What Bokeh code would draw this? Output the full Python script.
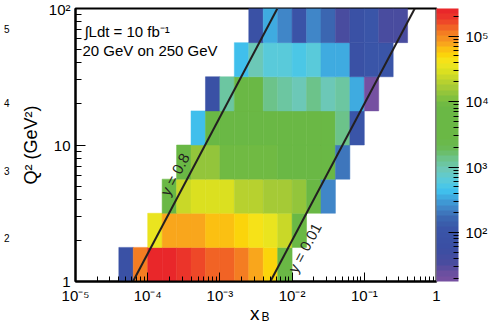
import numpy as np
from bokeh.plotting import figure
from bokeh.layouts import column
from bokeh.models import (LogColorMapper, ColorBar, LogTicker, CustomJSTickFormatter,
                          Label, ColumnDataSource, LogAxis, FixedTicker)
from bokeh.embed import file_html
from bokeh.resources import INLINE

# ---------------- data ----------------
# bin edges (log10)
x_log_edges = [-5.0, -4.8, -4.6, -4.4, -4.2, -4.0, -3.8, -3.6, -3.4, -3.2, -3.0,
               -2.8, -2.6, -2.4, -2.2, -2.0, -1.8, -1.6, -1.4, -1.2, -1.0,
               -0.8, -0.6, -0.4, -0.2, 0.0]
q2_log_edges = [0.0, 0.25, 0.5, 0.75, 1.0, 1.25, 1.5, 1.75, 2.0]

# event counts per Q2 row (bottom to top), per xB bin; 0 = empty
row_q2_1 = [0, 0, 0, 80, 110000, 220000, 220000, 200000, 170000, 140000, 130000, 110000,
            80000, 50000, 6000, 0, 0, 0, 0, 0, 0, 0, 0, 0, 0]
row_q2_2 = [0, 0, 0, 0, 0, 35000, 80000, 80000, 80000, 65000, 65000, 50000,
            40000, 35000, 24000, 6000, 0, 0, 0, 0, 0, 0, 0, 0, 0]
row_q2_3 = [0, 0, 0, 0, 0, 0, 6000, 24000, 30000, 30000, 30000, 21000,
            21000, 16500, 15000, 12500, 7000, 220, 0, 0, 0, 0, 0, 0, 0]
row_q2_4 = [0, 0, 0, 0, 0, 0, 0, 6000, 13000, 12500, 10000, 10000,
            9000, 8500, 7000, 7000, 7000, 7000, 180, 0, 0, 0, 0, 0, 0]
row_q2_5 = [0, 0, 0, 0, 0, 0, 0, 0, 450, 5500, 6500, 6500,
            6500, 6500, 5500, 5500, 5500, 5500, 1300, 110, 0, 0, 0, 0, 0]
row_q2_6 = [0, 0, 0, 0, 0, 0, 0, 0, 0, 80, 1100, 3000,
            4500, 1300, 1200, 900, 1300, 900, 1100, 320, 20, 0, 0, 0, 0]
row_q2_7 = [0, 0, 0, 0, 0, 0, 0, 0, 0, 0, 0, 450,
            900, 650, 650, 550, 650, 320, 320, 80, 110, 110, 0, 0, 0]
row_q2_8 = [0, 0, 0, 0, 0, 0, 0, 0, 0, 0, 0, 0,
            80, 320, 220, 100, 220, 155, 35, 80, 110, 35, 35, 0, 0]
count_rows = [row_q2_1, row_q2_2, row_q2_3, row_q2_4, row_q2_5, row_q2_6, row_q2_7, row_q2_8]

# kinematic lines: Q2 = y * s * xB
beam_e, beam_p = 20.0, 250.0
y_values = [0.8, 0.01]
y_labels = ["y = 0.8", "y = 0.01"]
q2_line = [1.0, 100.0]

z_low, z_high = 17.8, 2.66e5

# cut-off exponents of the neighbouring panel's colour scale (left edge)
edge_q2_pos = [70.8, 20.4, 6.46, 2.10]
edge_texts = ["5", "4", "3", "2"]

# ---------------- palette (ROOT-like rainbow) ----------------
anch_log = [1.25, 1.38, 1.53, 1.75, 2.04, 2.19, 2.35, 2.50, 2.65, 2.81, 2.96, 3.11, 3.27,
            3.42, 3.93, 4.03, 4.19, 4.34, 4.47, 4.60, 4.70, 4.80, 4.90, 5.06, 5.16, 5.26, 5.425]
anch_hex = ["#7a50a2", "#6a4fa0", "#4a4c9f", "#3a4ea3", "#3a55a8", "#3a62ae", "#4080c4",
            "#3fa0da", "#40c4ef", "#5ccbd8", "#6cc8b8", "#6cc490", "#6abb5a", "#6ab845",
            "#6ab845", "#7cbf40", "#a0c838", "#c0d42c", "#dce020", "#f4e61e", "#fbd80a",
            "#fbc012", "#f8a01e", "#f47a22", "#f05a26", "#ec3a2a", "#e8202a"]


def hex2rgb(h):
    return [int(h[i:i + 2], 16) for i in (1, 3, 5)]


rgb = np.array([hex2rgb(h) for h in anch_hex], dtype=float)
n_col = 50
lo, hi = np.log10(z_low), np.log10(z_high)
centers = lo + (np.arange(n_col) + 0.5) * (hi - lo) / n_col
palette = []
for c in centers:
    r, g, b = (int(round(np.interp(c, anch_log, rgb[:, k]))) for k in range(3))
    palette.append("#%02x%02x%02x" % (r, g, b))

mapper = LogColorMapper(palette=palette, low=z_low, high=z_high)

# ---------------- main figure ----------------
FONT = "Liberation Sans"
H_MAIN, H_TITLE = 306, 18
BL, BR = 72, 55
p = figure(width=491, height=H_MAIN, x_axis_type="log", y_axis_type="log",
           x_range=(1e-5, 1), y_range=(1, 100), output_backend="svg",
           toolbar_location=None, min_border_left=BL, min_border_right=BR,
           min_border_top=8, min_border_bottom=H_MAIN - 282)
p.background_fill_color = "white"
p.border_fill_color = "white"
p.grid.visible = False
p.outline_line_color = "black"
p.outline_line_width = 2

cells = dict(left=[], right=[], bottom=[], top=[], count=[])
for r, row in enumerate(count_rows):
    for j, c in enumerate(row):
        if c > 0:
            cells["left"].append(10 ** x_log_edges[j])
            cells["right"].append(10 ** x_log_edges[j + 1])
            cells["bottom"].append(10 ** q2_log_edges[r])
            cells["top"].append(10 ** q2_log_edges[r + 1])
            cells["count"].append(c)
src = ColumnDataSource(cells)
p.quad(left="left", right="right", bottom="bottom", top="top", source=src,
       fill_color={"field": "count", "transform": mapper},
       line_color={"field": "count", "transform": mapper}, line_width=0.5)

s = 4 * beam_e * beam_p
for yv in y_values:
    p.line([q / (yv * s) for q in q2_line], q2_line, line_color="#231f20", line_width=2)

p.add_layout(Label(x=2.37e-4, y=6.1, text=y_labels[0], angle=62, angle_units="deg",
                   text_align="center", text_baseline="middle", text_font=FONT,
                   text_font_size="15px", text_color="#231f20"))
p.add_layout(Label(x=0.0149, y=1.77, text=y_labels[1], angle=62, angle_units="deg",
                   text_align="center", text_baseline="middle", text_font=FONT,
                   text_font_size="15px", text_color="#231f20"))

p.add_layout(Label(x=1.33e-5, y=67.9, text="∫Ldt = 10 fb⁻¹", text_align="left",
                   text_baseline="alphabetic", text_font=FONT, text_font_size="15px",
                   text_color="black"))
p.add_layout(Label(x=1.25e-5, y=49.4, text="20 GeV on 250 GeV", text_align="left",
                   text_baseline="alphabetic", text_font=FONT, text_font_size="15px",
                   text_color="black"))

fmt_code = """
const e = Math.round(Math.log10(tick));
if (e == 0) return "1";
if (e == 1) return "10";
const sup = {"-":"\u207b","0":"\u2070","1":"\u00b9","2":"\u00b2","3":"\u00b3","4":"\u2074",
             "5":"\u2075","6":"\u2076","7":"\u2077","8":"\u2078","9":"\u2079"};
return "10" + String(e).split("").map(c => sup[c]).join("");
"""

for ax in (p.xaxis[0], p.yaxis[0]):
    ax.ticker = LogTicker(num_minor_ticks=10)
    ax.formatter = CustomJSTickFormatter(code=fmt_code)
    ax.axis_line_color = "black"
    ax.axis_line_width = 2
    ax.major_tick_line_color = "black"
    ax.minor_tick_line_color = "black"
    ax.major_tick_out = 0
    ax.minor_tick_out = 0
    ax.major_label_text_font = FONT
    ax.major_label_text_font_size = "15px"
    ax.major_label_text_color = "black"
    ax.axis_label_text_font = FONT
    ax.axis_label_text_font_style = "normal"
    ax.axis_label_text_color = "black"

p.xaxis[0].major_tick_in = 9
p.xaxis[0].minor_tick_in = 5
p.xaxis[0].major_label_standoff = 5
p.yaxis[0].major_tick_in = 10
p.yaxis[0].minor_tick_in = 6
p.yaxis[0].major_label_standoff = 5
p.yaxis[0].axis_label = "Q² (GeV²)"
p.yaxis[0].axis_label_text_font_size = "18px"
p.yaxis[0].axis_label_standoff = 5

# fragments of the neighbouring panel's colour-scale labels at the left edge
edge_axis = LogAxis(ticker=FixedTicker(ticks=edge_q2_pos, minor_ticks=[]),
                    formatter=CustomJSTickFormatter(
                        args=dict(pos=edge_q2_pos, txt=edge_texts),
                        code="""
let best = 0, d = 1e9;
for (let i = 0; i < pos.length; i++) {
  const dd = Math.abs(Math.log10(pos[i]) - Math.log10(tick));
  if (dd < d) { d = dd; best = i; }
}
return txt[best];"""),
                    axis_line_color=None, major_tick_line_color=None,
                    minor_tick_line_color=None, major_label_standoff=2,
                    major_label_text_font=FONT, major_label_text_font_size="10px",
                    major_label_text_color="black")
p.add_layout(edge_axis, "left")

cb = ColorBar(color_mapper=mapper, ticker=LogTicker(num_minor_ticks=10),
              formatter=CustomJSTickFormatter(code=fmt_code),
              width=22, padding=0, margin=0, label_standoff=7,
              major_tick_in=10, minor_tick_in=5, major_tick_out=0, minor_tick_out=0,
              major_tick_line_color="black", minor_tick_line_color="black",
              major_label_text_font=FONT, major_label_text_font_size="15px",
              major_label_text_color="black", bar_line_color=None,
              background_fill_color="white", border_line_color=None)
p.add_layout(cb, "right")

# ---------------- strip below for the x-axis title x_B (shares the x scale) -------
t = figure(width=491, height=H_TITLE, x_axis_type="log", x_range=p.x_range,
           y_range=(0, H_TITLE), output_backend="svg", toolbar_location=None,
           min_border_left=BL, min_border_right=BR, min_border_top=0, min_border_bottom=0,
           x_axis_location=None, y_axis_location=None)
t.grid.visible = False
t.outline_line_color = None
t.background_fill_color = "white"
t.border_fill_color = "white"
t.add_layout(Label(x=2.62e-3, y=11, text="x", text_align="left",
                   text_baseline="alphabetic", text_font=FONT, text_font_size="19px",
                   text_color="black"))
t.add_layout(Label(x=3.77e-3, y=8, text="B", text_align="left",
                   text_baseline="alphabetic", text_font=FONT, text_font_size="12px",
                   text_color="black"))

layout = column(p, t, spacing=0)
open("out.html", "w").write(file_html(layout, INLINE))
